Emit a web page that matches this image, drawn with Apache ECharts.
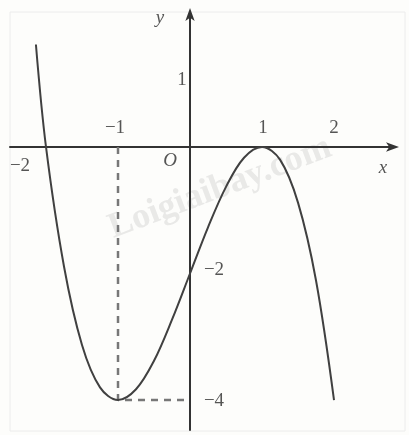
<!DOCTYPE html>
<html>
<head>
<meta charset="utf-8">
<script src="https://cdn.jsdelivr.net/npm/echarts@6/dist/echarts.min.js"></script>
<style>
html,body{margin:0;padding:0;background:#fdfdfb;}
#chart{width:409px;height:435px;}
</style>
</head>
<body>
<div id="chart"></div>
<script>
// Graph of the cubic: points along the curve
var curveX = [-2.14, -2, -1.75, -1.5, -1.25, -1, -0.75, -0.5, -0.25, 0, 0.25, 0.5, 0.75, 1, 1.25, 1.5, 1.75, 2];
var curveY = [1.62, 0, -1.89, -3.13, -3.8, -4, -3.83, -3.38, -2.73, -2, -1.27, -0.63, -0.17, 0, -0.2, -0.88, -2.11, -4];

// Minimum point and its projections onto the axes
var minPoint = [-1, -4];

// Tick labels
var xTickValues = [-2, -1, 1, 2];
var xTickTexts = ['\u22122', '\u22121', '1', '2'];
var yTickValues = [1, -2, -4];
var yTickTexts = ['1', '\u22122', '\u22124'];

var serif = '"Liberation Serif", "DejaVu Serif", serif';
var textColor = '#2a2a2a';

var chart = echarts.init(document.getElementById('chart'), null, {renderer: 'canvas'});

function pts(xs, ys) {
  return xs.map(function (x, i) { return [x, ys[i]]; });
}

// label placement offsets (pixels) for each tick label
var xTickOffsets = [[-26, 19], [-3, -19], [1, -19], [0, -19]];
var yTickOffsets = [[-8, -4], [24, -3], [24, 1]];

var tickLabelData = [];
xTickValues.forEach(function (v, i) {
  tickLabelData.push({value: [v, 0], label: {formatter: xTickTexts[i], offset: xTickOffsets[i]}});
});
yTickValues.forEach(function (v, i) {
  tickLabelData.push({value: [0, v], label: {formatter: yTickTexts[i], offset: yTickOffsets[i]}});
});
// origin and axis names
tickLabelData.push({value: [0, 0], label: {formatter: 'O', fontStyle: 'italic', offset: [-20, 14]}});
tickLabelData.push({value: [0, 2.134], label: {formatter: 'y', fontStyle: 'italic', offset: [-30, 6]}});
tickLabelData.push({value: [2.847, 0], label: {formatter: 'x', fontStyle: 'italic', offset: [-12, 21]}});

var option = {
  backgroundColor: '#fdfdfb',
  animation: false,
  grid: {left: 10, right: 14, top: 12, bottom: 5, containLabel: false},
  xAxis: {
    type: 'value', min: -2.5, max: 2.847,
    axisLine: {onZero: true, symbol: ['none', 'arrow'], symbolSize: [7, 13], symbolOffset: [0, 4],
      lineStyle: {color: '#333', width: 2}},
    axisTick: {show: false}, axisLabel: {show: false}, splitLine: {show: false}
  },
  yAxis: {
    type: 'value', min: -4.474, max: 2.134,
    axisLine: {onZero: true, symbol: ['none', 'arrow'], symbolSize: [7, 13], symbolOffset: [0, 4],
      lineStyle: {color: '#333', width: 2}},
    axisTick: {show: false}, axisLabel: {show: false}, splitLine: {show: false}
  },
  graphic: [
    {type: 'rect', shape: {x: 10, y: 12, width: 395, height: 419}, silent: true, z: -1,
      style: {fill: 'none', stroke: '#ececec', lineWidth: 1}},
    {type: 'text', x: 220, y: 188, rotation: 0.36, silent: true, z: 0,
      style: {text: 'Loigiaibay.com', font: 'bold 36px ' + serif, fill: 'rgba(200,200,200,0.38)',
        textAlign: 'center', textVerticalAlign: 'middle'}}
  ],
  series: [
    {
      type: 'line', data: [[minPoint[0], 0], minPoint, [0, minPoint[1]]],
      symbol: 'none', silent: true,
      lineStyle: {color: '#777', width: 2.5, type: [7, 6]}
    },
    {
      type: 'line', data: pts(curveX, curveY), smooth: 0.35,
      symbol: 'none', silent: true,
      lineStyle: {color: '#404040', width: 2}
    },
    {
      type: 'scatter', data: tickLabelData, symbolSize: 0, silent: true,
      label: {show: true, position: 'inside', color: textColor, fontFamily: serif, fontSize: 19}
    }
  ]
};
chart.setOption(option);
</script>
</body>
</html>
